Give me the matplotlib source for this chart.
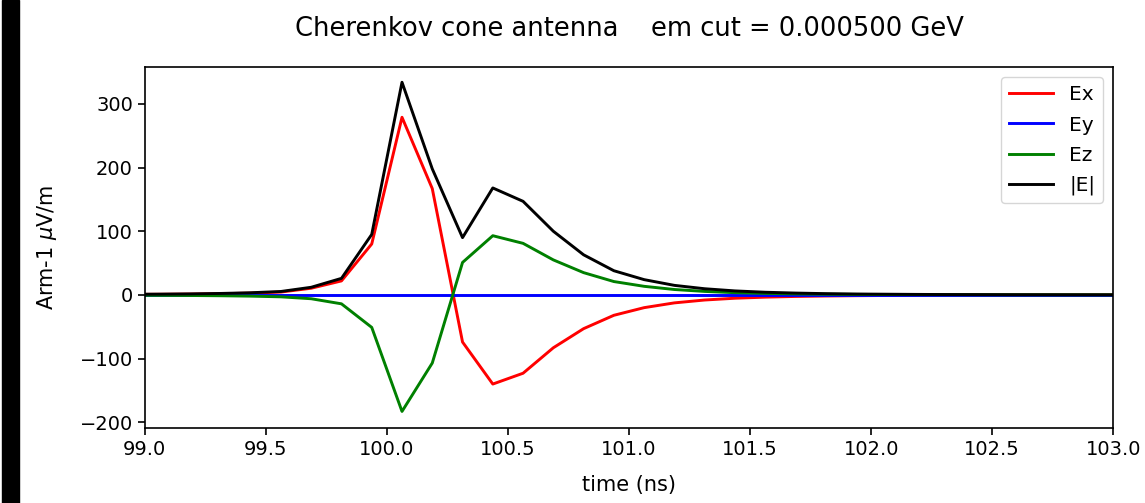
import numpy as np
import matplotlib
matplotlib.use("Agg")
import matplotlib.pyplot as plt
import matplotlib.patches as mpatches

# sample times (ns)
time_ns = [98.9375, 99.0625, 99.1875, 99.3125, 99.4375, 99.5625, 99.6875, 99.8125,
           99.9375, 100.0625, 100.1875, 100.3125, 100.4375, 100.5625, 100.6875,
           100.8125, 100.9375, 101.0625, 101.1875, 101.3125, 101.4375, 101.5625,
           101.6875, 101.8125, 101.9375, 102.0625, 102.1875, 102.3125, 102.4375,
           102.5625, 102.6875, 102.8125, 102.9375, 103.0625]

# field components, Arm-1 uV/m
ex = [0.8, 1.0, 1.3, 1.9, 2.8, 4.5, 10.5, 22, 80, 279, 167, -74, -140, -123, -83,
      -53, -32, -20, -12.5, -8, -5.2, -3.5, -2.4, -1.7, -1.2, -0.9, -0.7, -0.5,
      -0.4, -0.3, -0.25, -0.2, -0.16, -0.13]
ey = [0.0] * 34
ez = [-0.5, -0.7, -0.9, -1.3, -1.9, -3.0, -6, -14, -51, -183, -107, 51, 93, 81, 55,
      35, 21, 13.5, 8.5, 5.5, 3.5, 2.4, 1.6, 1.1, 0.8, 0.6, 0.45, 0.35,
      0.27, 0.2, 0.16, 0.13, 0.1, 0.08]
emag = [1.0, 1.2, 1.6, 2.3, 3.4, 5.4, 12, 26, 95, 334, 198, 90, 168, 147, 100,
        63, 38, 24, 15, 9.7, 6.3, 4.2, 2.9, 2.0, 1.4, 1.1, 0.8, 0.6,
        0.5, 0.36, 0.3, 0.24, 0.19, 0.15]

fig = plt.figure(figsize=(11.45, 5.03), dpi=100)
ax = fig.add_axes([0.1264, 0.1485, 0.8459, 0.7177])

ax.plot(time_ns, ex, color="red", lw=2.1, label="Ex")
ax.plot(time_ns, ey, color="blue", lw=2.1, label="Ey")
ax.plot(time_ns, ez, color="green", lw=2.1, label="Ez")
ax.plot(time_ns, emag, color="black", lw=2.1, label="|E|")

ax.set_xlim(99.0, 103.0)
ax.set_ylim(-209.5, 357.5)
ax.set_xticks(np.arange(99.0, 103.01, 0.5))
ax.set_yticks([-200, -100, 0, 100, 200, 300])
ax.tick_params(labelsize=14, length=5, width=1.2)
for s in ax.spines.values():
    s.set_linewidth(1.2)

ax.set_xlabel("time (ns)", fontsize=15)
ax.set_ylabel(r"Arm-1 $\mu$V/m", fontsize=15)
ax.yaxis.set_label_coords(-0.0885, 0.5)
ax.xaxis.set_label_coords(0.5, -0.129)
ax.set_title("Cherenkov cone antenna    em cut = 0.000500 GeV", fontsize=18.5, pad=22.5)
ax.legend(loc="upper right", fontsize=14.5, handlelength=2.2, labelspacing=0.55)

# dark bar at the left edge of the screenshot
fig.patches.append(mpatches.Rectangle((0.002, 0.0), 0.015, 1.0, transform=fig.transFigure,
                                      color="black", zorder=10))

fig.savefig("out.png", dpi=100)
